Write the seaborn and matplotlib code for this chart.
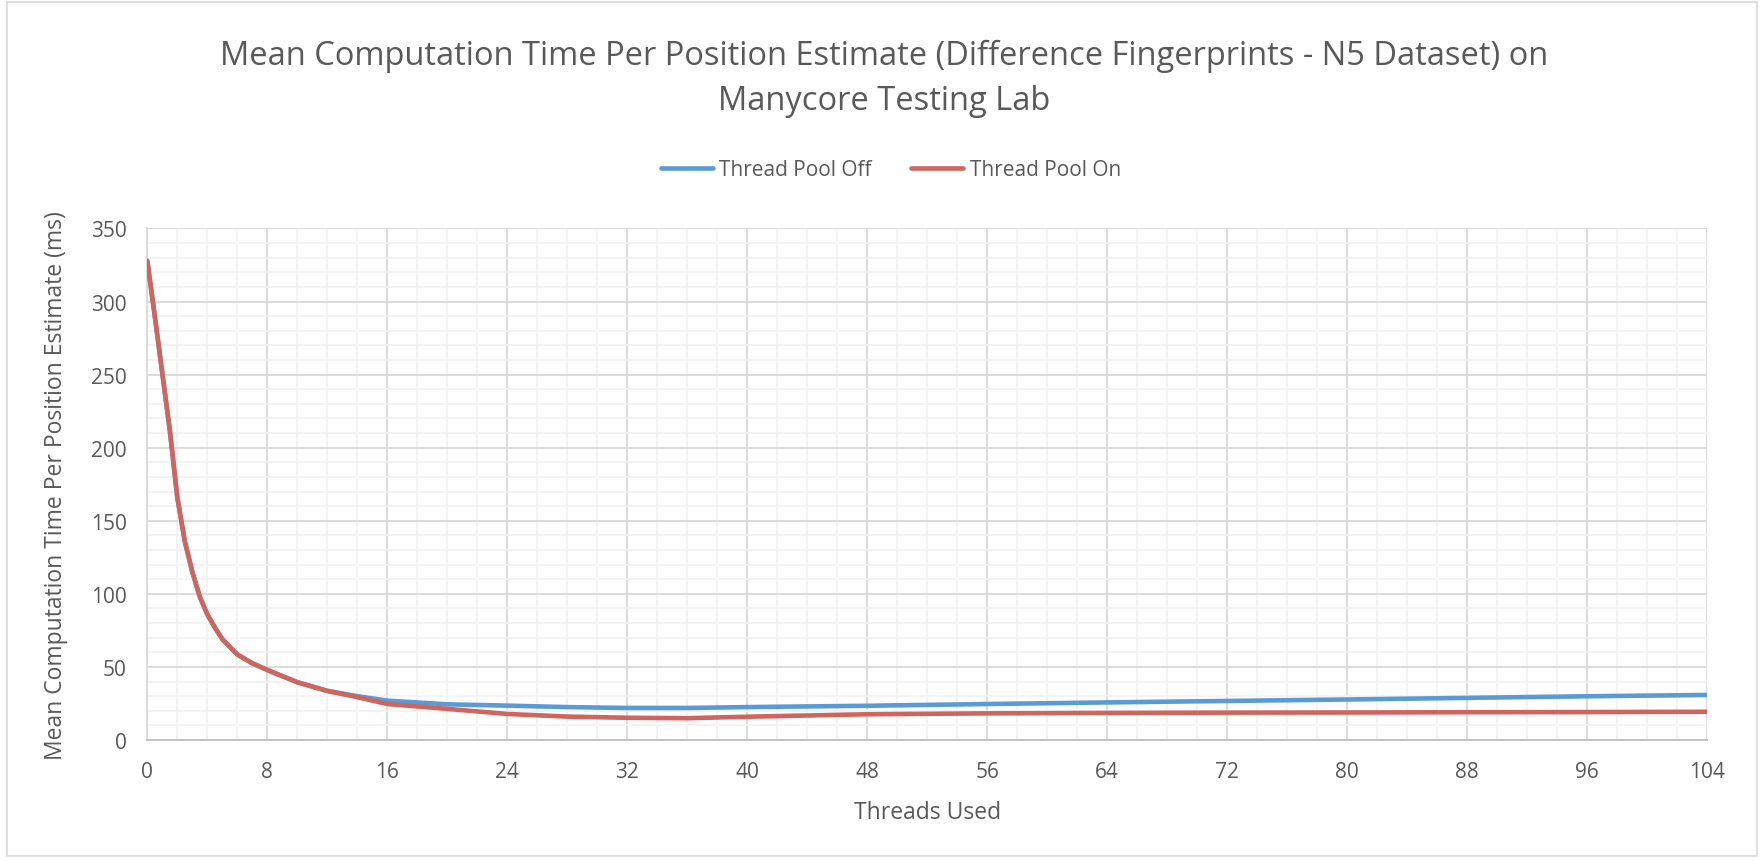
import matplotlib
matplotlib.use("Agg")
import matplotlib.pyplot as plt
from matplotlib.patches import Rectangle
from matplotlib.ticker import MultipleLocator
import pandas as pd
import seaborn as sns

# Threads used (x) and mean computation time per estimate in ms
threads = [0, 0.5, 1, 1.5, 2, 2.5, 3, 3.5, 4, 4.5, 5, 6, 7, 8, 10, 12, 14, 16,
           20, 24, 28, 32, 36, 40, 48, 56, 64, 72, 80, 88, 96, 104]
pool_off = [327.8, 290, 251, 212, 166, 136, 115, 98, 86, 77, 69, 58.5, 52.5,
            47.9, 39.5, 33.7, 30.0, 26.9, 24.4, 23.5, 22.5, 21.9, 21.9, 22.5,
            23.4, 24.6, 25.7, 26.7, 27.7, 28.8, 29.9, 30.8]
pool_on = [327.8, 290, 251, 212, 166, 136, 115, 98, 86, 77, 69, 58.5, 52.5,
           47.9, 39.5, 33.5, 29.3, 24.6, 21.3, 17.8, 16.0, 15.2, 14.9, 15.9,
           17.6, 18.2, 18.5, 18.7, 18.8, 19.0, 19.1, 19.3]
series_names = ["Thread Pool Off", "Thread Pool On"]
series_colors = ["#5B9BD5", "#D0655E"]

df = pd.concat([
    pd.DataFrame({"Threads Used": threads, "ms": pool_off, "series": series_names[0]}),
    pd.DataFrame({"Threads Used": threads, "ms": pool_on, "series": series_names[1]}),
])

sns.set_theme(style="white")
plt.rcParams["font.family"] = ["Open Sans", "DejaVu Sans"]
text_color = "#595959"

fig = plt.figure(figsize=(17.64, 8.62), dpi=100)
ax = fig.add_axes([0.0835, 0.1404, 0.8842, 0.5934])

sns.lineplot(data=df, x="Threads Used", y="ms", hue="series",
             palette=dict(zip(series_names, series_colors)),
             linewidth=3.3, ax=ax, legend=False, zorder=3)

ax.set_xlim(0, 104)
ax.set_ylim(0, 350)
ax.xaxis.set_major_locator(MultipleLocator(8))
ax.xaxis.set_minor_locator(MultipleLocator(2))
ax.yaxis.set_major_locator(MultipleLocator(50))
ax.yaxis.set_minor_locator(MultipleLocator(10))
ax.grid(which="minor", color="#F2F2F2", linewidth=1.3, zorder=0)
ax.grid(which="major", color="#D9D9D9", linewidth=1.3, zorder=1)
ax.set_axisbelow(True)
ax.tick_params(which="both", length=0, labelsize=15, labelcolor=text_color)
ax.tick_params(axis="x", pad=15)
ax.tick_params(axis="y", pad=15)

for side in ["top", "right"]:
    ax.spines[side].set_visible(False)
ax.spines["left"].set_color("#D9D9D9")
ax.spines["bottom"].set_color("#BFBFBF")
ax.spines["left"].set_linewidth(1.3)
ax.spines["bottom"].set_linewidth(1.3)

ax.set_xlabel("Threads Used", fontsize=16.5, color=text_color, labelpad=13)
ax.set_ylabel("Mean Computation Time Per Position Estimate (ms)", fontsize=16.5,
              color=text_color, labelpad=16)

fig.text(0.501, 1 - 56 / 862,
         "Mean Computation Time Per Position Estimate (Difference Fingerprints - N5 Dataset) on",
         ha="center", va="center", fontsize=23.5, color=text_color)
fig.text(0.501, 1 - 101 / 862, "Manycore Testing Lab",
         ha="center", va="center", fontsize=23.5, color=text_color)

handles = [plt.Line2D([], [], color=c, linewidth=3.3, solid_capstyle="round")
           for c in series_colors]
leg = fig.legend(handles, series_names, loc="center", ncol=2,
                 bbox_to_anchor=(0.505, 1 - 171 / 862), frameon=False,
                 fontsize=15, handlelength=2.5, columnspacing=1.9,
                 handletextpad=0.3)
for t in leg.get_texts():
    t.set_color(text_color)

fig.patches.append(Rectangle((0.004, 0.006), 0.992, 0.99, transform=fig.transFigure,
                             fill=False, edgecolor="#D9D9D9", linewidth=1.2))

fig.savefig("out.png", dpi=100, facecolor="white")
